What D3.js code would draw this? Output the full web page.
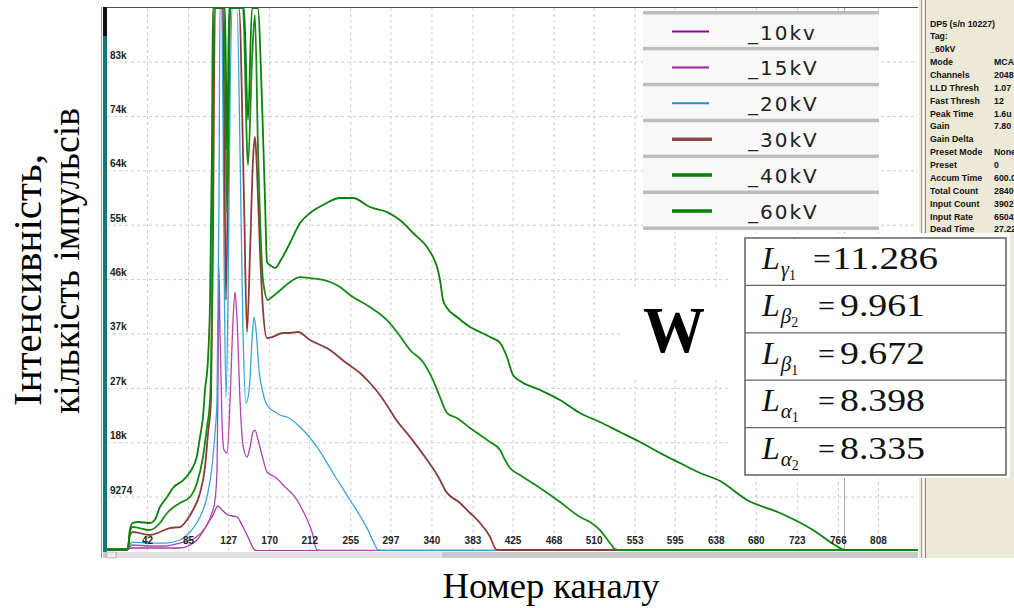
<!DOCTYPE html>
<html><head><meta charset="utf-8">
<script src="https://cdn.jsdelivr.net/npm/d3@7"></script>
<style>body{margin:0;background:#fff}svg{display:block}</style>
</head><body>
<svg id="c" width="1014" height="608"></svg>
<script>
// ---------- data ----------
const xTickValues=[42,85,127,170,212,255,297,340,383,425,468,510,553,595,638,680,723,766,808];
const yTickValues=[9274,18548,27822,37096,46370,55644,64918,74192,83466];
const yTickLabels=["9274","18k","27k","37k","46k","55k","64k","74k","83k"];
const seriesNames=["_10kv","_15kV","_20kV","_30kV","_40kV","_60kV"];

const kv10=[[0,50],[21,50],[22,340],[27,510],[76.5,510],[87,1020],[94.3,1880],[104.8,4430],[111.1,6140],[116.3,7670],[120.5,6990],[126.8,6140],[136.3,5800],[141.5,4430],[147.8,2390],[155.1,170],[160,50],[850,50]];
const kv15=[[0,100],[21,100],[22,340],[27,1020],[45,850],[61,850],[76.5,1360],[92.2,2220],[102.7,3920],[110,6480],[113.2,8700],[115.3,13810],[116.4,29160],[117.4,48260],[118.4,37690],[120.5,22340],[122.6,17220],[125.8,16710],[129,25750],[132.1,39390],[134.2,44170],[136.3,39390],[139.4,25750],[142.5,18080],[146.7,16030],[150,17740],[153,20290],[155.1,20630],[158.3,18930],[162.4,16370],[167.7,13470],[176.1,12620],[186.6,10910],[197,9210],[207.5,6140],[214.9,3240],[220.1,170],[225,100],[850,100]];
const kv20=[[0,100],[21,100],[22,340],[25,1360],[27,1530],[45,1360],[61,1360],[76.5,1880],[87,3240],[97.5,5800],[104.8,9210],[110,14320],[113.2,20120],[115.3,25750],[117.4,59860],[118.4,100000],[120.5,100000],[122.6,51330],[124.7,26260],[126.8,42800],[129,76900],[131,100000],[136.3,100000],[139.4,68380],[142.5,37690],[145.7,25240],[149,27450],[152,35980],[154.1,39900],[156.2,37690],[159.3,30870],[163.5,26940],[167.7,24900],[176.1,23700],[181.3,23190],[188.7,22850],[202.3,21150],[220.1,17740],[236.9,13300],[254.7,8700],[272.5,3920],[280.9,1020],[284,170],[290,120],[850,120]];
const kv30=[[0,200],[21,200],[22,340],[24,2730],[27,3240],[45,2730],[55.5,3240],[66,3920],[76.5,4090],[83.8,5290],[90.1,6990],[97.5,9890],[102.7,14320],[105.9,20120],[109,25750],[111,51330],[113.2,100000],[121.6,100000],[124.7,42800],[129,100000],[138.3,100000],[143.6,59860],[146.7,37350],[150,51330],[153,66680],[155.1,70600],[157.2,64970],[160.3,51330],[163.5,41100],[167.7,36320],[172.9,36490],[184.5,37180],[191.8,37180],[200.2,37350],[212.8,35980],[233.7,34280],[249.4,32230],[265.2,30350],[275.6,28650],[286.1,26600],[296.6,24040],[301.8,22680],[317.6,19440],[333.3,16030],[349,12110],[354.3,10400],[370,8190],[380.5,6480],[391,4775],[401.5,2390],[406.7,510],[408.8,170],[850,170]];
const kv40=[[0,300],[21,300],[22,510],[24,3240],[27,4090],[45,3580],[55.5,4775],[63,6480],[76.5,8185],[87,9210],[94.3,11600],[100.6,16030],[104.8,21150],[108,25750],[110,42800],[112.1,100000],[122.6,100000],[125.8,57640],[129,100000],[142.5,100000],[147.8,65830],[152,83730],[155,91400],[158.3,68380],[163.5,46210],[168.7,42800],[172.9,43310],[178.2,44000],[186.6,45190],[191.8,45870],[202.3,46720],[212.8,46550],[233.7,45870],[244.2,45020],[254.7,43660],[275.6,41610],[293.5,39390],[304,37350],[317.6,34280],[331.2,32230],[341.7,29160],[349,26260],[356.4,23530],[366.8,22680],[380.5,20980],[391,19780],[401.5,18590],[412,17220],[417.2,15520],[422.4,14150],[432.9,12960],[453.8,10740],[474.8,8360],[495.7,5800],[506.2,4945],[516.7,3580],[527.2,1360],[532.4,340],[537.7,170],[850,170]];
const kv60=[[0,300],[21,300],[22,510],[24,3580],[27,4775],[32.5,4945],[45,4775],[50,5285],[55.5,7500],[63,9200],[69,10740],[80,12100],[87,13470],[94,16030],[97.5,19440],[100.6,22850],[102.7,27450],[105.8,32565],[108,42800],[110,68400],[111,100000],[123.7,100000],[125.8,68400],[128,100000],[143.6,100000],[147.8,73500],[152,100000],[158,100000],[162.4,76900],[165.6,59860],[167.7,49280],[170.8,48770],[176,48260],[183.4,49960],[191.8,52520],[202.3,55930],[212.8,57640],[226.4,59000],[244.2,60200],[257.8,60200],[275.6,58660],[293.5,57800],[304,56790],[307,56445],[320.7,54230],[335.4,51840],[341.7,50140],[345.9,48430],[349,46210],[352.2,42800],[356.4,41440],[366.8,39900],[380.5,38200],[391,37350],[401.5,36490],[412,35470],[419.2,33080],[425.5,30010],[432.9,28990],[453.8,27450],[474.8,25750],[495.7,23530],[516.7,22000],[537.7,20290],[558.6,18590],[579.6,16710],[600.5,15000],[621.5,13300],[642.5,11940],[670.8,8700],[705.4,6480],[740,3580],[763,1020],[773.3,200],[850,200]];
const seriesData=[kv10,kv15,kv20,kv30,kv40,kv60];
const seriesColors=["#a23aa2","#b044b0","#3aa2da","#8a3c3c","#178a17","#0b800b"];
const legendColors=["#990099","#a020a0","#1e90dc","#8b4848","#008000","#008000"];

const lineGreek=["γ","β","β","α","α"];
const lineIdx=["1","2","1","1","2"];
const lineEnergy=["11.286","9.961","9.672","8.398","8.335"];

const statLabels=["DP5 (s/n   10227)","Tag:","_60kV","Mode","Channels","LLD Thresh","Fast Thresh","Peak Time","Gain","Gain Delta","Preset Mode","Preset","Accum Time","Total Count","Input Count","Input Rate","Dead Time"];
const statValues=["","","","MCA","2048","1.07","12","1.6u","7.80","","None","0","600.0","2840","3902","6504","27.22"];

// ---------- drawing ----------
const svg=d3.select("#c");
const L=107,R=918,T=8,B=551;
const x=d3.scaleLinear().domain([0,850]).range([L,R]);
const y=d3.scaleLinear().domain([0,92600]).range([B,T]).clamp(true);

svg.append("rect").attr("width",1014).attr("height",608).attr("fill","#fff");

// stats panel
svg.append("rect").attr("x",919).attr("y",0).attr("width",95).attr("height",558).attr("fill","#ece9d8");
svg.append("line").attr("x1",921.5).attr("x2",921.5).attr("y1",0).attr("y2",558).attr("stroke","#9a9a9a");
svg.append("line").attr("x1",923.5).attr("x2",923.5).attr("y1",0).attr("y2",558).attr("stroke","#ffffff");
svg.append("line").attr("x1",925.5).attr("x2",925.5).attr("y1",0).attr("y2",558).attr("stroke","#8a8a8a");
svg.append("clipPath").attr("id","sc").append("rect").attr("x",926).attr("y",0).attr("width",88).attr("height",558);
const st=svg.append("g").attr("clip-path","url(#sc)").attr("font-family","Liberation Sans, Arial, sans-serif").attr("font-weight","bold").attr("font-size","8.8px").attr("fill","#111");
statLabels.forEach((s,i)=>{
  st.append("text").attr("x",930).attr("y",26.5+12.87*i).text(s);
  if(statValues[i]) st.append("text").attr("x",994).attr("y",26.5+12.87*i).text(statValues[i]);
});

// plot area
svg.append("rect").attr("x",L).attr("y",T).attr("width",R-L).attr("height",B-T).attr("fill","#fff");

// grid
const gGridX=svg.append("g").attr("transform",`translate(0,${B})`)
  .call(d3.axisBottom(x).tickValues(xTickValues).tickSize(-(B-T)).tickFormat(""));
gGridX.select(".domain").remove();
gGridX.selectAll("line").attr("stroke","#cdcdcd").attr("stroke-dasharray","3,3");
const gGridY=svg.append("g").attr("transform",`translate(${L},0)`)
  .call(d3.axisRight(y).tickValues(yTickValues).tickSize(R-L).tickFormat(""));
gGridY.select(".domain").remove();
gGridY.selectAll("line").attr("stroke","#cdcdcd").attr("stroke-dasharray","3,3");

// cursor line
svg.append("line").attr("x1",x(773)).attr("x2",x(773)).attr("y1",T).attr("y2",B).attr("stroke","#a8a8a8");

// curves
svg.append("clipPath").attr("id","pc").append("rect").attr("x",L).attr("y",T-1).attr("width",R-L).attr("height",B-T+1);
const line=d3.line().x(d=>x(d[0])).y(d=>y(d[1])).curve(d3.curveMonotoneX);
const cg=svg.append("g").attr("clip-path","url(#pc)");
seriesData.forEach((s,i)=>{
  cg.append("path").attr("d",line(s)).attr("fill","none").attr("stroke",seriesColors[i])
    .attr("stroke-width",i<3?1.3:1.8).attr("stroke-linejoin","round");
});

// top border
svg.append("line").attr("x1",L).attr("x2",R).attr("y1",7.5).attr("y2",7.5).attr("stroke","#4a4a4a");

// axis labels (inside plot)
const gxA=svg.append("g").attr("transform",`translate(0,${B})`)
  .call(d3.axisTop(x).tickValues(xTickValues).tickSize(0).tickPadding(7).tickFormat(d=>String(d)));
gxA.select(".domain").remove();
gxA.selectAll("text").attr("font-family","Liberation Sans Narrow, Liberation Sans, Arial, sans-serif")
  .attr("font-weight","bold").attr("font-size","10px").attr("fill","#222");
const gyA=svg.append("g").attr("transform",`translate(${L},0)`)
  .call(d3.axisRight(y).tickValues(yTickValues).tickSize(0).tickPadding(3).tickFormat((d,i)=>yTickLabels[i]));
gyA.select(".domain").remove();
gyA.selectAll("text").attr("font-family","Liberation Sans Narrow, Liberation Sans, Arial, sans-serif")
  .attr("font-weight","bold").attr("font-size","10px").attr("fill","#222").attr("dy","-0.35em");

// left teal bar
svg.append("line").attr("x1",101.5).attr("x2",101.5).attr("y1",7).attr("y2",558).attr("stroke","#9a9a9a");
svg.append("rect").attr("x",103).attr("y",7).attr("width",4).attr("height",551).attr("fill","#0e7a78");
svg.append("rect").attr("x",103).attr("y",7).attr("width",4).attr("height",29).attr("fill","#111");

// scrollbar
svg.append("rect").attr("x",103).attr("y",552).attr("width",R-103).attr("height",6).attr("fill","#c9c9c9");
svg.append("rect").attr("x",117).attr("y",552).attr("width",325).attr("height",6).attr("fill","#e2e2e2");
svg.append("rect").attr("x",107).attr("y",552).attr("width",9).attr("height",6).attr("fill","#ececec").attr("stroke","#999").attr("stroke-width",0.5);

// legend
const lg=svg.append("g");
lg.append("rect").attr("x",643).attr("y",11).attr("width",236).attr("height",221).attr("fill","#f8f8f8");
for(let i=0;i<=6;i++){
  lg.append("rect").attr("x",643).attr("y",11+35.9*i).attr("width",236).attr("height",3.5).attr("fill","#bdbdbd");
}
seriesNames.forEach((n,i)=>{
  const cy=31.5+35.9*i;
  lg.append("line").attr("x1",672).attr("x2",i<3?709:712).attr("y1",cy).attr("y2",cy)
    .attr("stroke",legendColors[i]).attr("stroke-width",i<3?2:3.5);
  lg.append("text").attr("x",748).attr("y",cy+8).attr("font-family","DejaVu Sans, sans-serif")
    .attr("font-size","20px").attr("letter-spacing","2px").attr("fill","#222").text(n);
});

// W label
svg.append("rect").attr("x",623).attr("y",288).attr("width",106).attr("height",92).attr("fill","#fff");
svg.append("text").attr("x",643).attr("y",352).attr("font-family","Liberation Serif, Times New Roman, serif")
  .attr("font-weight","bold").attr("font-size","66px").attr("textLength",62).attr("lengthAdjust","spacingAndGlyphs").text("W");

// table
svg.append("rect").attr("x",730).attr("y",233).attr("width",280).attr("height",245).attr("fill","#fff");
const tb=svg.append("g").attr("font-family","Liberation Serif, Times New Roman, serif").attr("fill","#111");
const tTop=238,rowH=47.4,tL=745,tR=1006;
lineEnergy.forEach((v,i)=>{
  const top=tTop+rowH*i, base=top+31;
  const t=tb.append("text").attr("x",762).attr("y",base);
  t.append("tspan").attr("font-style","italic").attr("font-size","32px").text("L");
  t.append("tspan").attr("font-style","italic").attr("font-size","21px").attr("dy",7).attr("dx",1).text(lineGreek[i]);
  t.append("tspan").attr("font-size","14px").attr("dy",4).text(lineIdx[i]);
  tb.append("text").attr("x",i===0?813:818).attr("y",base).attr("font-size","30px")
    .attr("textLength",i===0?18:17).attr("lengthAdjust","spacingAndGlyphs").text("=");
  tb.append("text").attr("x",i===0?832:840).attr("y",base).attr("font-size","31px")
    .attr("textLength",i===0?106:85).attr("lengthAdjust","spacingAndGlyphs").text(v);
});
tb.append("rect").attr("x",tL).attr("y",tTop).attr("width",tR-tL).attr("height",rowH*5)
  .attr("fill","none").attr("stroke","#555").attr("stroke-width",1.4);
for(let i=1;i<5;i++){
  tb.append("line").attr("x1",tL).attr("x2",tR).attr("y1",tTop+rowH*i).attr("y2",tTop+rowH*i)
    .attr("stroke","#666").attr("stroke-width",1.2);
}

// axis titles
svg.append("text").attr("x",551).attr("y",598).attr("text-anchor","middle")
  .attr("font-family","Liberation Serif, Times New Roman, serif").attr("font-size","36px")
  .attr("textLength",217).attr("lengthAdjust","spacingAndGlyphs").text("Номер каналу");
svg.append("text").attr("transform","translate(41,280) rotate(-90)").attr("text-anchor","middle")
  .attr("font-family","Liberation Serif, Times New Roman, serif").attr("font-size","40px")
  .attr("textLength",252).attr("lengthAdjust","spacingAndGlyphs").text("Інтенсивність,");
svg.append("text").attr("transform","translate(79,261) rotate(-90)").attr("text-anchor","middle")
  .attr("font-family","Liberation Serif, Times New Roman, serif").attr("font-size","38px")
  .attr("textLength",306).attr("lengthAdjust","spacingAndGlyphs").text("кількість імпульсів");
</script>
</body></html>
